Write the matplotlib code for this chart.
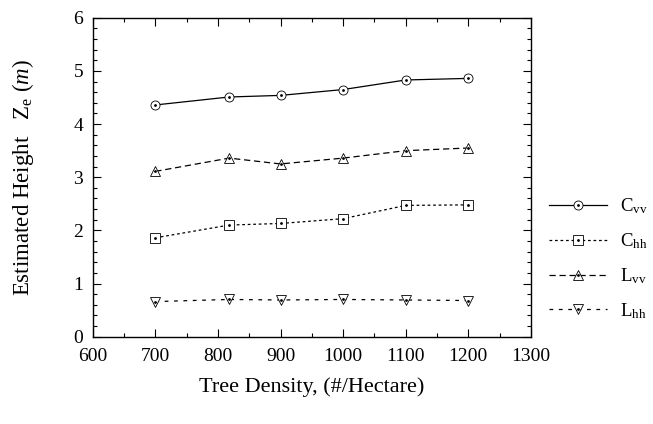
import matplotlib
matplotlib.use('Agg')
import matplotlib.pyplot as plt
from matplotlib.ticker import MultipleLocator

# 字体设置：Times 风格
plt.rcParams['font.family'] = ['Liberation Serif', 'DejaVu Serif']
plt.rcParams['mathtext.fontset'] = 'custom'
plt.rcParams['mathtext.rm'] = 'Liberation Serif'
plt.rcParams['mathtext.it'] = 'Liberation Serif:italic'

# 数据
density = [700, 818, 900, 1000, 1100, 1200]
c_vv = [4.36, 4.51, 4.54, 4.65, 4.83, 4.86]
c_hh = [1.86, 2.10, 2.13, 2.22, 2.47, 2.48]
l_vv = [3.11, 3.36, 3.25, 3.36, 3.50, 3.55]
l_hh = [0.66, 0.70, 0.69, 0.70, 0.69, 0.68]

series = [
    (c_vv, 'o', (None, None), r'C$_{\mathrm{vv}}$'),
    (c_hh, 's', (2.2, 2.2), r'C$_{\mathrm{hh}}$'),
    (l_vv, '^', (5, 3), r'L$_{\mathrm{vv}}$'),
    (l_hh, 'v', (3, 4.5), r'L$_{\mathrm{hh}}$'),
]

fig = plt.figure(figsize=(6.53, 4.24), dpi=100)
ax = fig.add_axes([0.142, 0.206, 0.671, 0.752])

handles = []
labels = []
for vals, mk, dash, lab in series:
    line, = ax.plot(density, vals, color='black', linewidth=0.9,
                    marker=mk, markersize=6.5, markerfacecolor='white',
                    markeredgewidth=0.6)
    if dash[0] is not None:
        line.set_dashes(dash)
    dot, = ax.plot(density, vals, linestyle='none', marker='.',
                   markersize=2, color='black')
    handles.append((line, dot))
    labels.append(lab)

ax.set_xlim(600, 1300)
ax.set_ylim(0, 6)
ax.xaxis.set_major_locator(MultipleLocator(100))
ax.xaxis.set_minor_locator(MultipleLocator(50))
ax.yaxis.set_major_locator(MultipleLocator(1))
ax.yaxis.set_minor_locator(MultipleLocator(0.2))
ax.tick_params(which='both', direction='in', top=True, right=True,
               labelsize=14, width=0.8)
ax.tick_params(which='major', length=6)
ax.tick_params(axis='x', which='major', pad=8)
ax.tick_params(axis='y', which='major', pad=7)
ax.tick_params(which='minor', length=3)
for sp in ax.spines.values():
    sp.set_linewidth(1.0)

ax.set_xlabel('Tree Density, (#/Hectare)', fontsize=16, labelpad=9)
ax.set_ylabel(r'Estimated Height   Z$_{\mathrm{e}}$ ($m$)', fontsize=16.5, labelpad=27)

fig.legend(handles, labels, loc='center left',
           bbox_to_anchor=(0.82, 0.39), frameon=False, fontsize=13.5,
           handlelength=3.1, labelspacing=0.8, handletextpad=0.7,
           borderpad=0.2)

plt.savefig('out.png', dpi=100)
